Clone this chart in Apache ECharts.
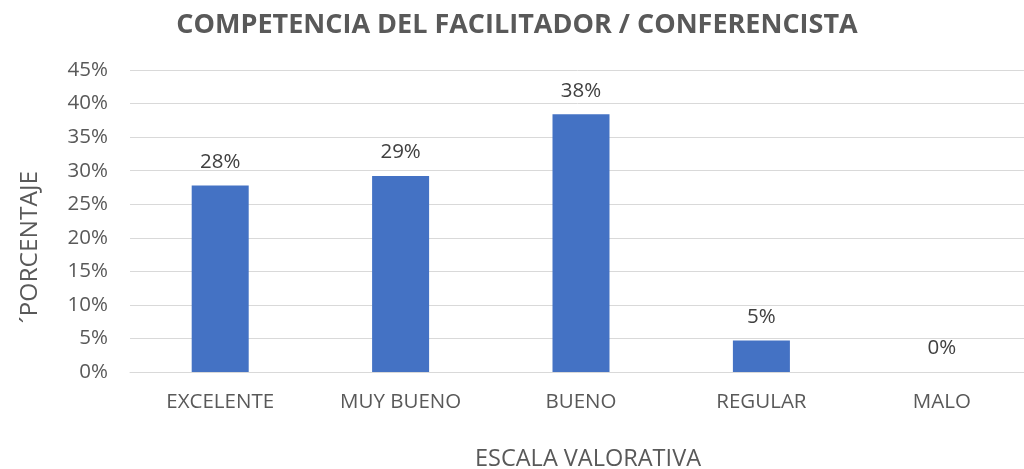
<!DOCTYPE html>
<html>
<head>
<meta charset="utf-8">
<script src="https://cdn.jsdelivr.net/npm/echarts@6/dist/echarts.min.js"></script>
<style>
html,body{margin:0;padding:0;background:#fff;}
#c{width:1024px;height:469px;}
</style>
</head>
<body>
<div id="c"></div>
<script>
const categories = ['EXCELENTE', 'MUY BUENO', 'BUENO', 'REGULAR', 'MALO'];
const values = [27.8, 29.2, 38.4, 4.7, 0];
const dataLabels = ['28%', '29%', '38%', '5%', '0%'];
const yTicks = [0, 5, 10, 15, 20, 25, 30, 35, 40, 45];

const font = 'Open Sans';
const chart = echarts.init(document.getElementById('c'), null, {renderer: 'canvas'});
chart.setOption({
  animation: false,
  title: {
    text: 'COMPETENCIA DEL FACILITADOR / CONFERENCISTA',
    left: 512, top: 7, textAlign: 'center',
    textStyle: {fontFamily: font, fontWeight: 'bold', fontSize: 27, color: '#595959'}
  },
  grid: {left: 130, top: 70, width: 902, height: 302, containLabel: false, outerBoundsMode: 'none'},
  xAxis: {
    type: 'category',
    data: categories,
    axisTick: {show: false},
    axisLine: {lineStyle: {color: '#d9d9d9', width: 1}},
    axisLabel: {color: '#595959', fontFamily: font, fontSize: 20.5, margin: 20},
    name: 'ESCALA VALORATIVA',
    nameLocation: 'middle',
    nameGap: 75,
    nameTextStyle: {color: '#595959', fontFamily: font, fontSize: 23.5, padding: [0, 0, 0, 14]}
  },
  yAxis: {
    type: 'value',
    min: 0, max: 45, interval: 5,
    axisLine: {show: false},
    axisTick: {show: false},
    splitLine: {lineStyle: {color: '#d9d9d9', width: 1}},
    axisLabel: {
      color: '#595959', fontFamily: font, fontSize: 20.5, margin: 22,
      formatter: v => yTicks.includes(v) ? v + '%' : ''
    },
    name: '´PORCENTAJE',
    nameLocation: 'middle',
    nameGap: 87,
    nameRotate: 90,
    nameTextStyle: {color: '#595959', fontFamily: font, fontSize: 24.5, padding: [0, 52, 0, 0]}
  },
  series: [{
    type: 'bar',
    data: values,
    barWidth: '31.6%',
    itemStyle: {color: '#4472C4'},
    label: {
      show: true, position: 'top', distance: 13,
      color: '#404040', fontFamily: font, fontSize: 20.5,
      formatter: p => dataLabels[p.dataIndex]
    }
  }]
});
</script>
</body>
</html>
